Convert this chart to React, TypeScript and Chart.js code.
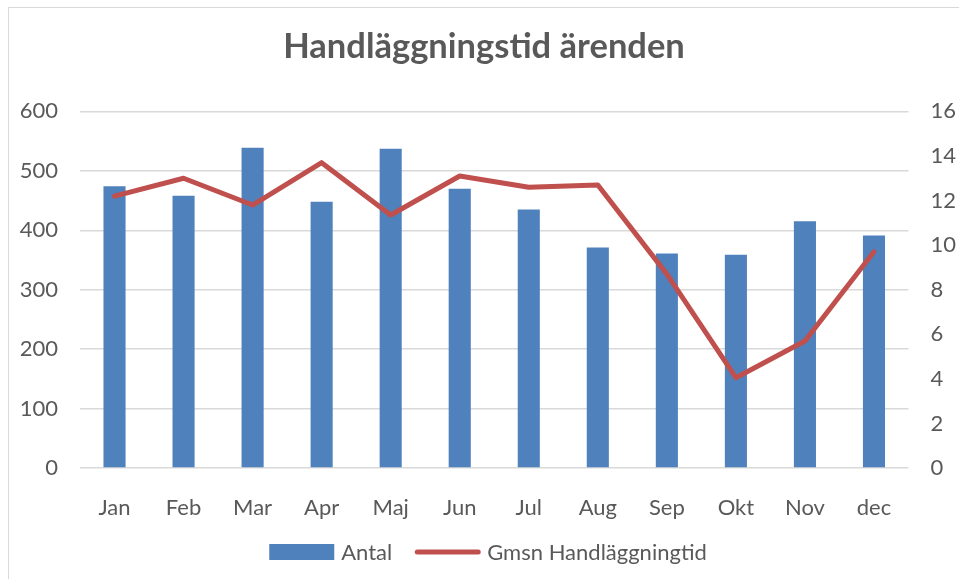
import React, { useEffect, useRef } from "react";
import { Chart, registerables } from "chart.js";

Chart.register(...registerables);

const chartTitle = "Handläggningstid ärenden";
const months = ["Jan", "Feb", "Mar", "Apr", "Maj", "Jun", "Jul", "Aug", "Sep", "Okt", "Nov", "dec"];
const antalLabel = "Antal";
const antal = [474, 458, 539, 448, 537, 470, 435, 371, 361, 359, 415, 391];
const gmsnLabel = "Gmsn Handläggningtid";
const gmsnHandlaggningtid = [12.2, 13.0, 11.8, 13.7, 11.35, 13.1, 12.6, 12.7, 8.7, 4.05, 5.7, 9.7];
const leftMax = 600;
const leftStep = 100;
const rightMax = 16;
const rightStep = 2;

const TEXT = "#595959";
const GRID = "#d9d9d9";
const BLUE = "#4F81BD";
const RED = "#C0504D";
const FONT = "Lato, 'Open Sans', sans-serif";

const legendPlugin = {
  id: "customLegend",
  afterDraw(chart: any) {
    const ctx = chart.ctx;
    ctx.save();
    ctx.font = `22px ${FONT}`;
    ctx.textBaseline = "middle";
    ctx.textAlign = "left";
    const boxW = 65;
    const textGap = 7;
    const itemGap = 23;
    const items = chart.data.datasets.map((ds: any) => ({
      label: ds.label,
      isLine: ds.type === "line",
      color: ds.type === "line" ? ds.borderColor : ds.backgroundColor,
      tw: ctx.measureText(ds.label).width,
    }));
    let total = 0;
    items.forEach((it: any, i: number) => {
      total += boxW + textGap + it.tw + (i > 0 ? itemGap : 0);
    });
    const cx = chart.width / 2 + 4;
    const y = 544;
    let x = cx - total / 2;
    items.forEach((it: any) => {
      if (it.isLine) {
        ctx.strokeStyle = it.color;
        ctx.lineWidth = 5;
        ctx.lineCap = "round";
        ctx.beginPath();
        ctx.moveTo(x + 2, y);
        ctx.lineTo(x + boxW - 2, y);
        ctx.stroke();
      } else {
        ctx.fillStyle = it.color;
        ctx.fillRect(x, y - 8, boxW, 16);
      }
      ctx.fillStyle = TEXT;
      ctx.fillText(it.label, x + boxW + textGap, y + 1);
      x += boxW + textGap + it.tw + itemGap;
    });
    ctx.restore();
  },
};

export default function App() {
  const canvasRef = useRef<HTMLCanvasElement | null>(null);

  useEffect(() => {
    const canvas = canvasRef.current;
    if (!canvas) return;
    const chart = new Chart(canvas, {
      type: "bar",
      data: {
        labels: months,
        datasets: [
          {
            type: "bar",
            label: antalLabel,
            data: antal,
            backgroundColor: BLUE,
            borderWidth: 0,
            yAxisID: "y",
            order: 2,
            categoryPercentage: 1,
            barPercentage: 0.32,
          } as any,
          {
            type: "line",
            label: gmsnLabel,
            data: gmsnHandlaggningtid,
            borderColor: RED,
            backgroundColor: RED,
            borderWidth: 5,
            pointRadius: 0,
            tension: 0,
            borderJoinStyle: "round",
            borderCapStyle: "round",
            yAxisID: "y1",
            order: 1,
          } as any,
        ],
      },
      options: {
        animation: false,
        responsive: false,
        maintainAspectRatio: false,
        layout: { padding: { left: 0, right: 0, top: 0, bottom: 50 } },
        plugins: {
          legend: { display: false },
          tooltip: { enabled: false },
          title: {
            display: true,
            text: chartTitle,
            color: TEXT,
            font: { family: FONT, size: 34.5, weight: "bold" },
            padding: { top: 18, bottom: 44 },
          },
        },
        scales: {
          x: {
            grid: { display: false, drawTicks: false },
            border: { display: false },
            ticks: { color: TEXT, font: { family: FONT, size: 22 }, padding: 27 },
            afterFit(scale: any) {
              scale.height = 61;
            },
          },
          y: {
            position: "left",
            min: 0,
            max: leftMax,
            ticks: { stepSize: leftStep, color: TEXT, font: { family: FONT, size: 22 }, padding: 22 },
            grid: { color: GRID, lineWidth: 1.5, drawTicks: false },
            border: { display: false },
            afterFit(scale: any) {
              scale.width = 71;
            },
          },
          y1: {
            position: "right",
            min: 0,
            max: rightMax,
            ticks: { stepSize: rightStep, color: TEXT, font: { family: FONT, size: 22 }, padding: 22 },
            grid: { display: false, drawTicks: false },
            border: { display: false },
            afterFit(scale: any) {
              scale.width = 50.5;
            },
          },
        },
      },
      plugins: [legendPlugin],
    });
    return () => chart.destroy();
  }, []);

  return (
    <div
      style={{
        position: "absolute",
        left: 8,
        top: 7,
        width: 952,
        height: 580,
        border: `1.5px solid ${GRID}`,
        boxSizing: "border-box",
        background: "#fff",
      }}
    >
      <canvas ref={canvasRef} width={950} height={571} style={{ display: "block" }} />
    </div>
  );
}
